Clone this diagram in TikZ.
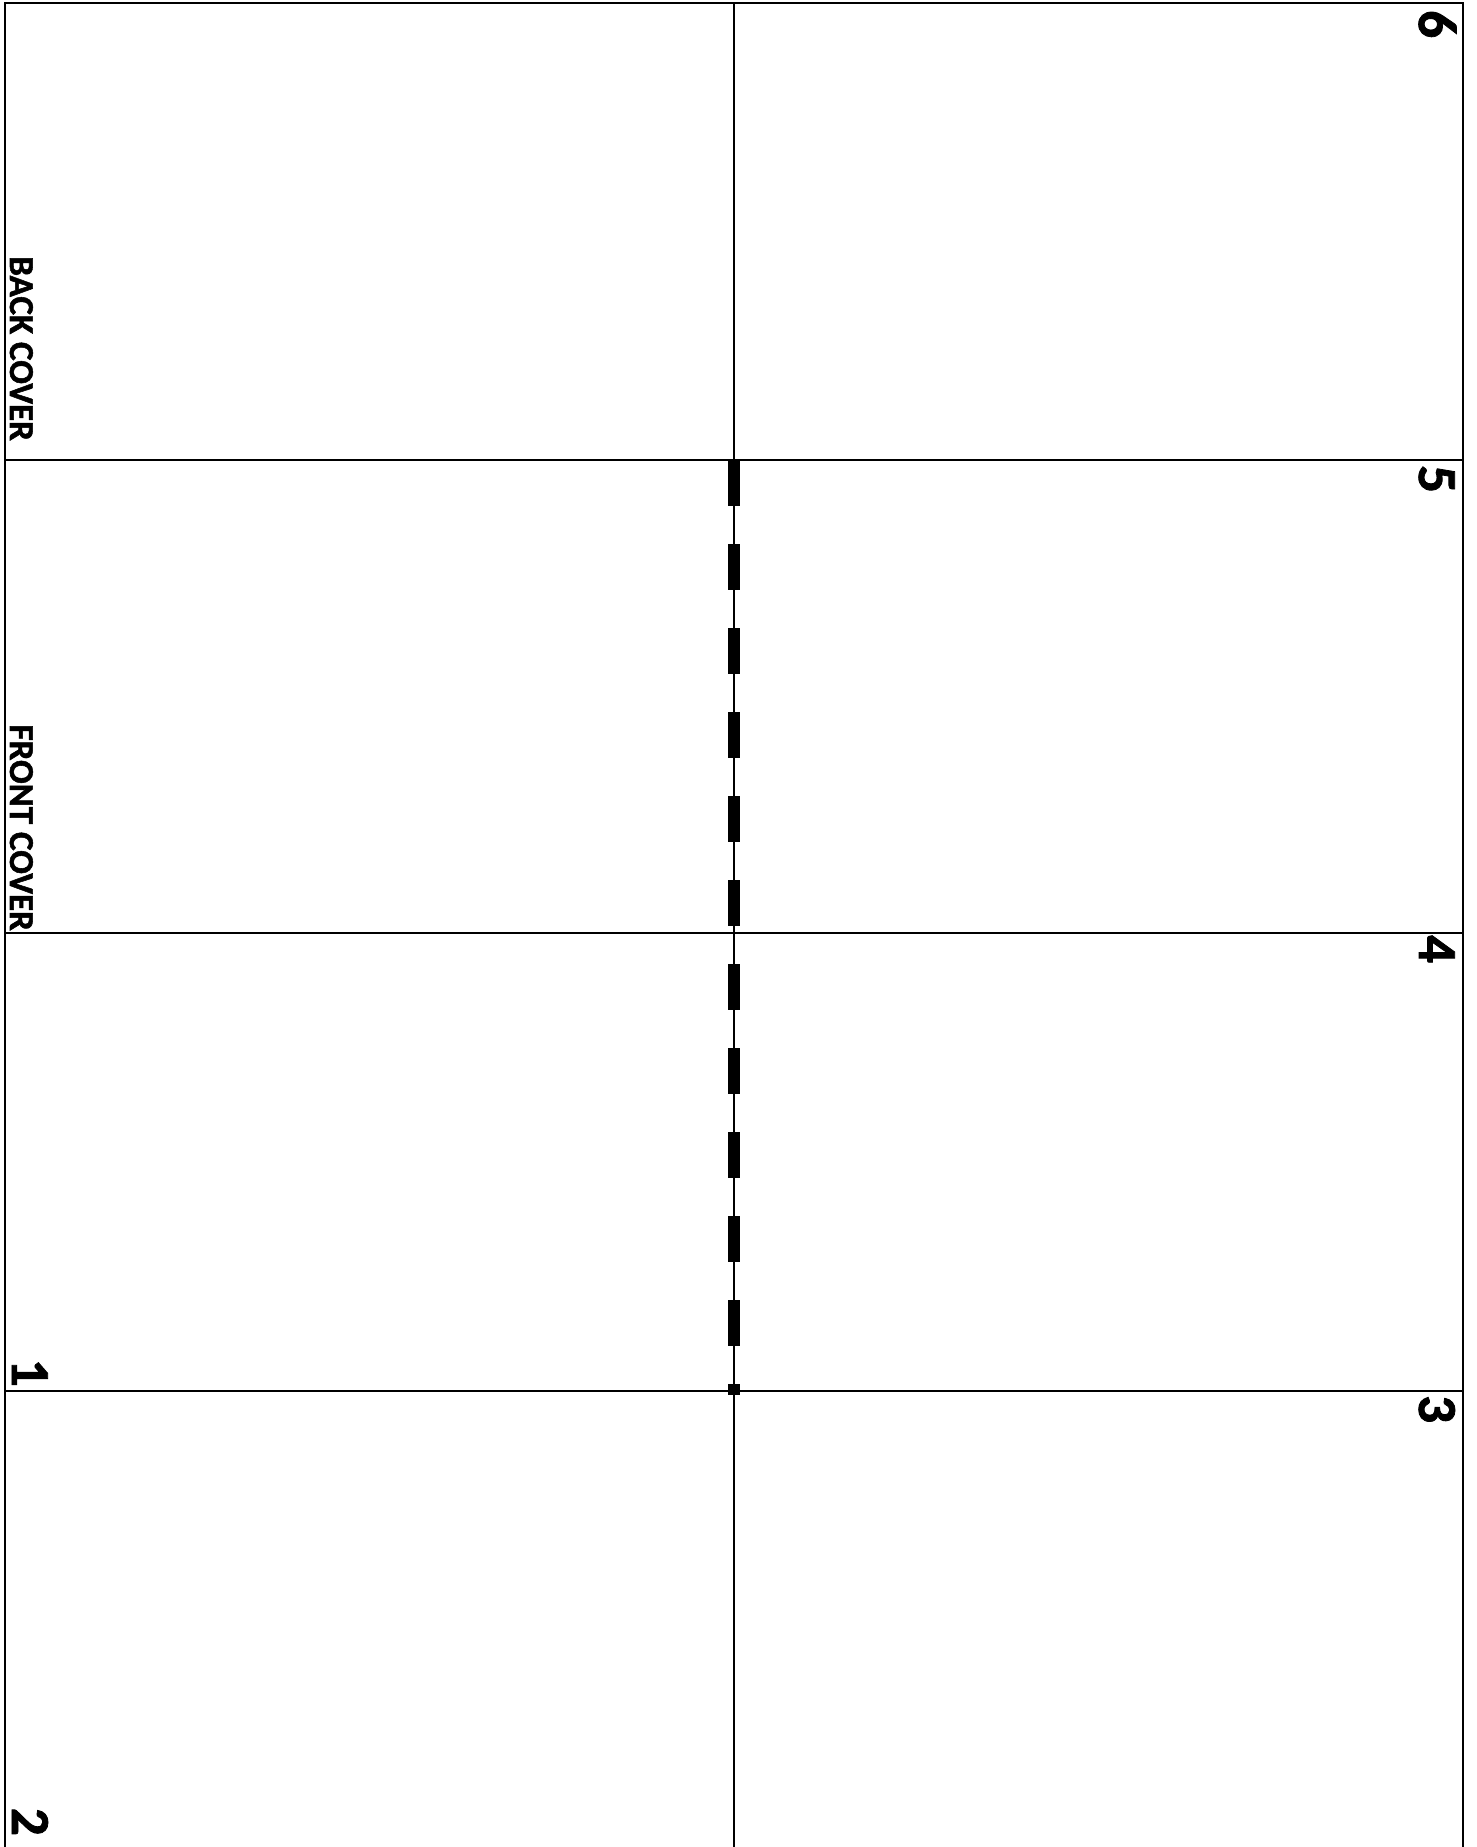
\documentclass[tikz,border=0pt]{standalone}
\usepackage{fontspec}
\setmainfont{Carlito}[BoldFeatures={FakeBold=1.5}]
\tikzset{
  grid line/.style={line width=2pt, black},
  fold line/.style={line width=12pt, black, dash pattern=on 46pt off 38pt},
  cover label/.style={inner sep=0pt, rotate=-90, anchor=base east, font=\bfseries\fontsize{35}{40}\selectfont},
  page num/.style={inner sep=0pt, rotate=-90, font=\bfseries\fontsize{55}{60}\selectfont},
}
\begin{document}
\begin{tikzpicture}[x=1pt, y=-1pt]
\useasboundingbox (0,0) rectangle (1477,1847);
% frame
\draw[grid line] (5,1847) -- (5,3) -- (1463,3) -- (1463,1847);
% horizontal panel lines
\draw[grid line] (5,460) -- (1463,460);
\draw[grid line] (5,933) -- (1463,933);
\draw[grid line] (5,1391) -- (1463,1391);
% centre line
\draw[grid line] (734,3) -- (734,1847);
% dashed fold line
\draw[fold line] (734,460) -- (734,1395);
% labels
\node[cover label] (back) at (10,441) {BACK COVER};
\node[cover label] (front) at (10,931) {FRONT COVER};
\node[page num, anchor=base east] (n1) at (12,1387) {1};
\node[page num, anchor=base east] (n2) at (12,1836) {2};
\node[page num, anchor=base west] (n6) at (1419,10) {6};
\node[page num, anchor=base west] (n5) at (1419,465) {5};
\node[page num, anchor=base west] (n4) at (1419,935) {4};
\node[page num, anchor=base west] (n3) at (1419,1395) {3};
\end{tikzpicture}
\end{document}
